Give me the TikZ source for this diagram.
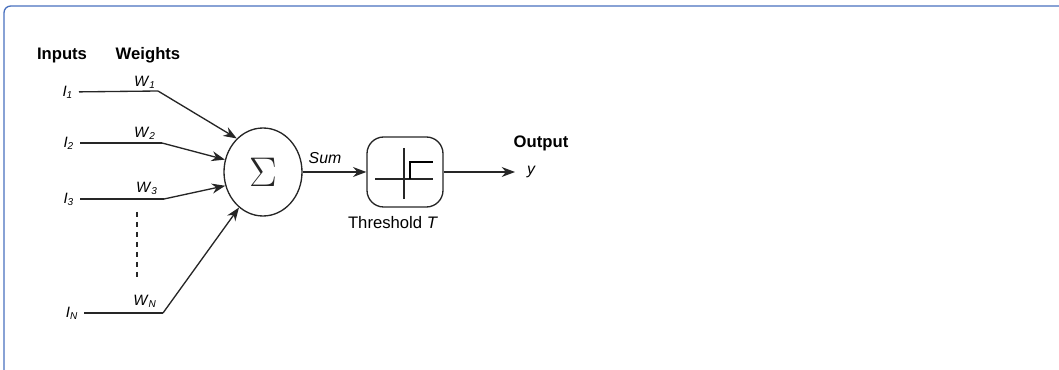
\documentclass[tikz,border=0pt]{standalone}
\usepackage{fontspec}
\setmainfont{Liberation Sans}
\usetikzlibrary{arrows.meta,shapes.geometric}
\definecolor{framecol}{RGB}{72,112,190}
\newcommand{\sublbl}[2]{\textit{#1}\textsubscript{\textit{#2}}}
\begin{document}
\begin{tikzpicture}[x=0.6pt,y=-0.6pt,
  wire/.style={line width=0.8pt, black!85},
  arr/.style={wire,-{Stealth[length=8pt,width=6pt]}},
  head/.style={font=\fontsize{10}{12}\selectfont\bfseries},
  small/.style={font=\fontsize{9}{11}\selectfont}]
\useasboundingbox (0,0) rectangle (1059,370);
\draw[framecol, line width=0.8pt, rounded corners=4pt] (4,370) -- (4,6) -- (1059,6);
% headings
\node[head] (inputs) at (62,55) {Inputs};
\node[head] (weights) at (148,55) {Weights};
\node[head] (output) at (541,143) {Output};
% inputs and weights
\node[small, anchor=east] (i1) at (79,92) {\sublbl{I}{1}};
\node[small, anchor=east] (i2) at (80,143) {\sublbl{I}{2}};
\node[small, anchor=east] (i3) at (80,199) {\sublbl{I}{3}};
\node[small, anchor=east] (iN) at (84,313) {\sublbl{I}{N}};
\coordinate (w1) at (158,91);
\coordinate (w2) at (162,143);
\coordinate (w3) at (164,199);
\coordinate (wN) at (163,313);
\node[small] (w1l) at (145,82) {\sublbl{W}{1}};
\node[small] (w2l) at (145,133) {\sublbl{W}{2}};
\node[small] (w3l) at (147,188) {\sublbl{W}{3}};
\node[small] (wNl) at (145,301) {\sublbl{W}{N}};
\coordinate (dtop) at (137,212);
\coordinate (dbot) at (137,277);
% summation and threshold
\node[draw, wire, ellipse, minimum width=46.8pt, minimum height=52.8pt] (sum) at (263,172) {\fontsize{31}{34}\selectfont$\Sigma$};
\node[font=\fontsize{9.5}{11}\selectfont\itshape] (suml) at (325,158) {Sum};
\node[draw, wire, rounded corners=10pt, minimum width=45.6pt, minimum height=42pt] (thr) at (405,172) {};
\node[font=\fontsize{10}{12}\selectfont] (thrl) at (393,223) {Threshold \textit{T}};
\node[font=\fontsize{9.5}{11}\selectfont\itshape, anchor=west, inner xsep=7pt] (yout) at (515,172) {y};
\draw[wire] (i1) -- (w1);
\draw[wire] (i2) -- (w2);
\draw[wire] (i3) -- (w3);
\draw[wire] (iN) -- (wN);
\draw[arr] (w1) -- (sum.128);
\draw[arr] (w2) -- (sum.162);
\draw[arr] (w3) -- (sum.200);
\draw[arr] (wN) -- (sum.236);
\draw[wire, dashed] (dtop) -- (dbot);
\draw[arr] (sum.east) -- (thr.west);
\draw[arr] (thr.east) -- (yout.west);
% step inside the box
\draw[wire] (375,179) -- (433,179);
\draw[wire] (404,148) -- (404,199);
\draw[line width=1pt] (410,179) -- (410,162) -- (433,162);
\end{tikzpicture}
\end{document}
